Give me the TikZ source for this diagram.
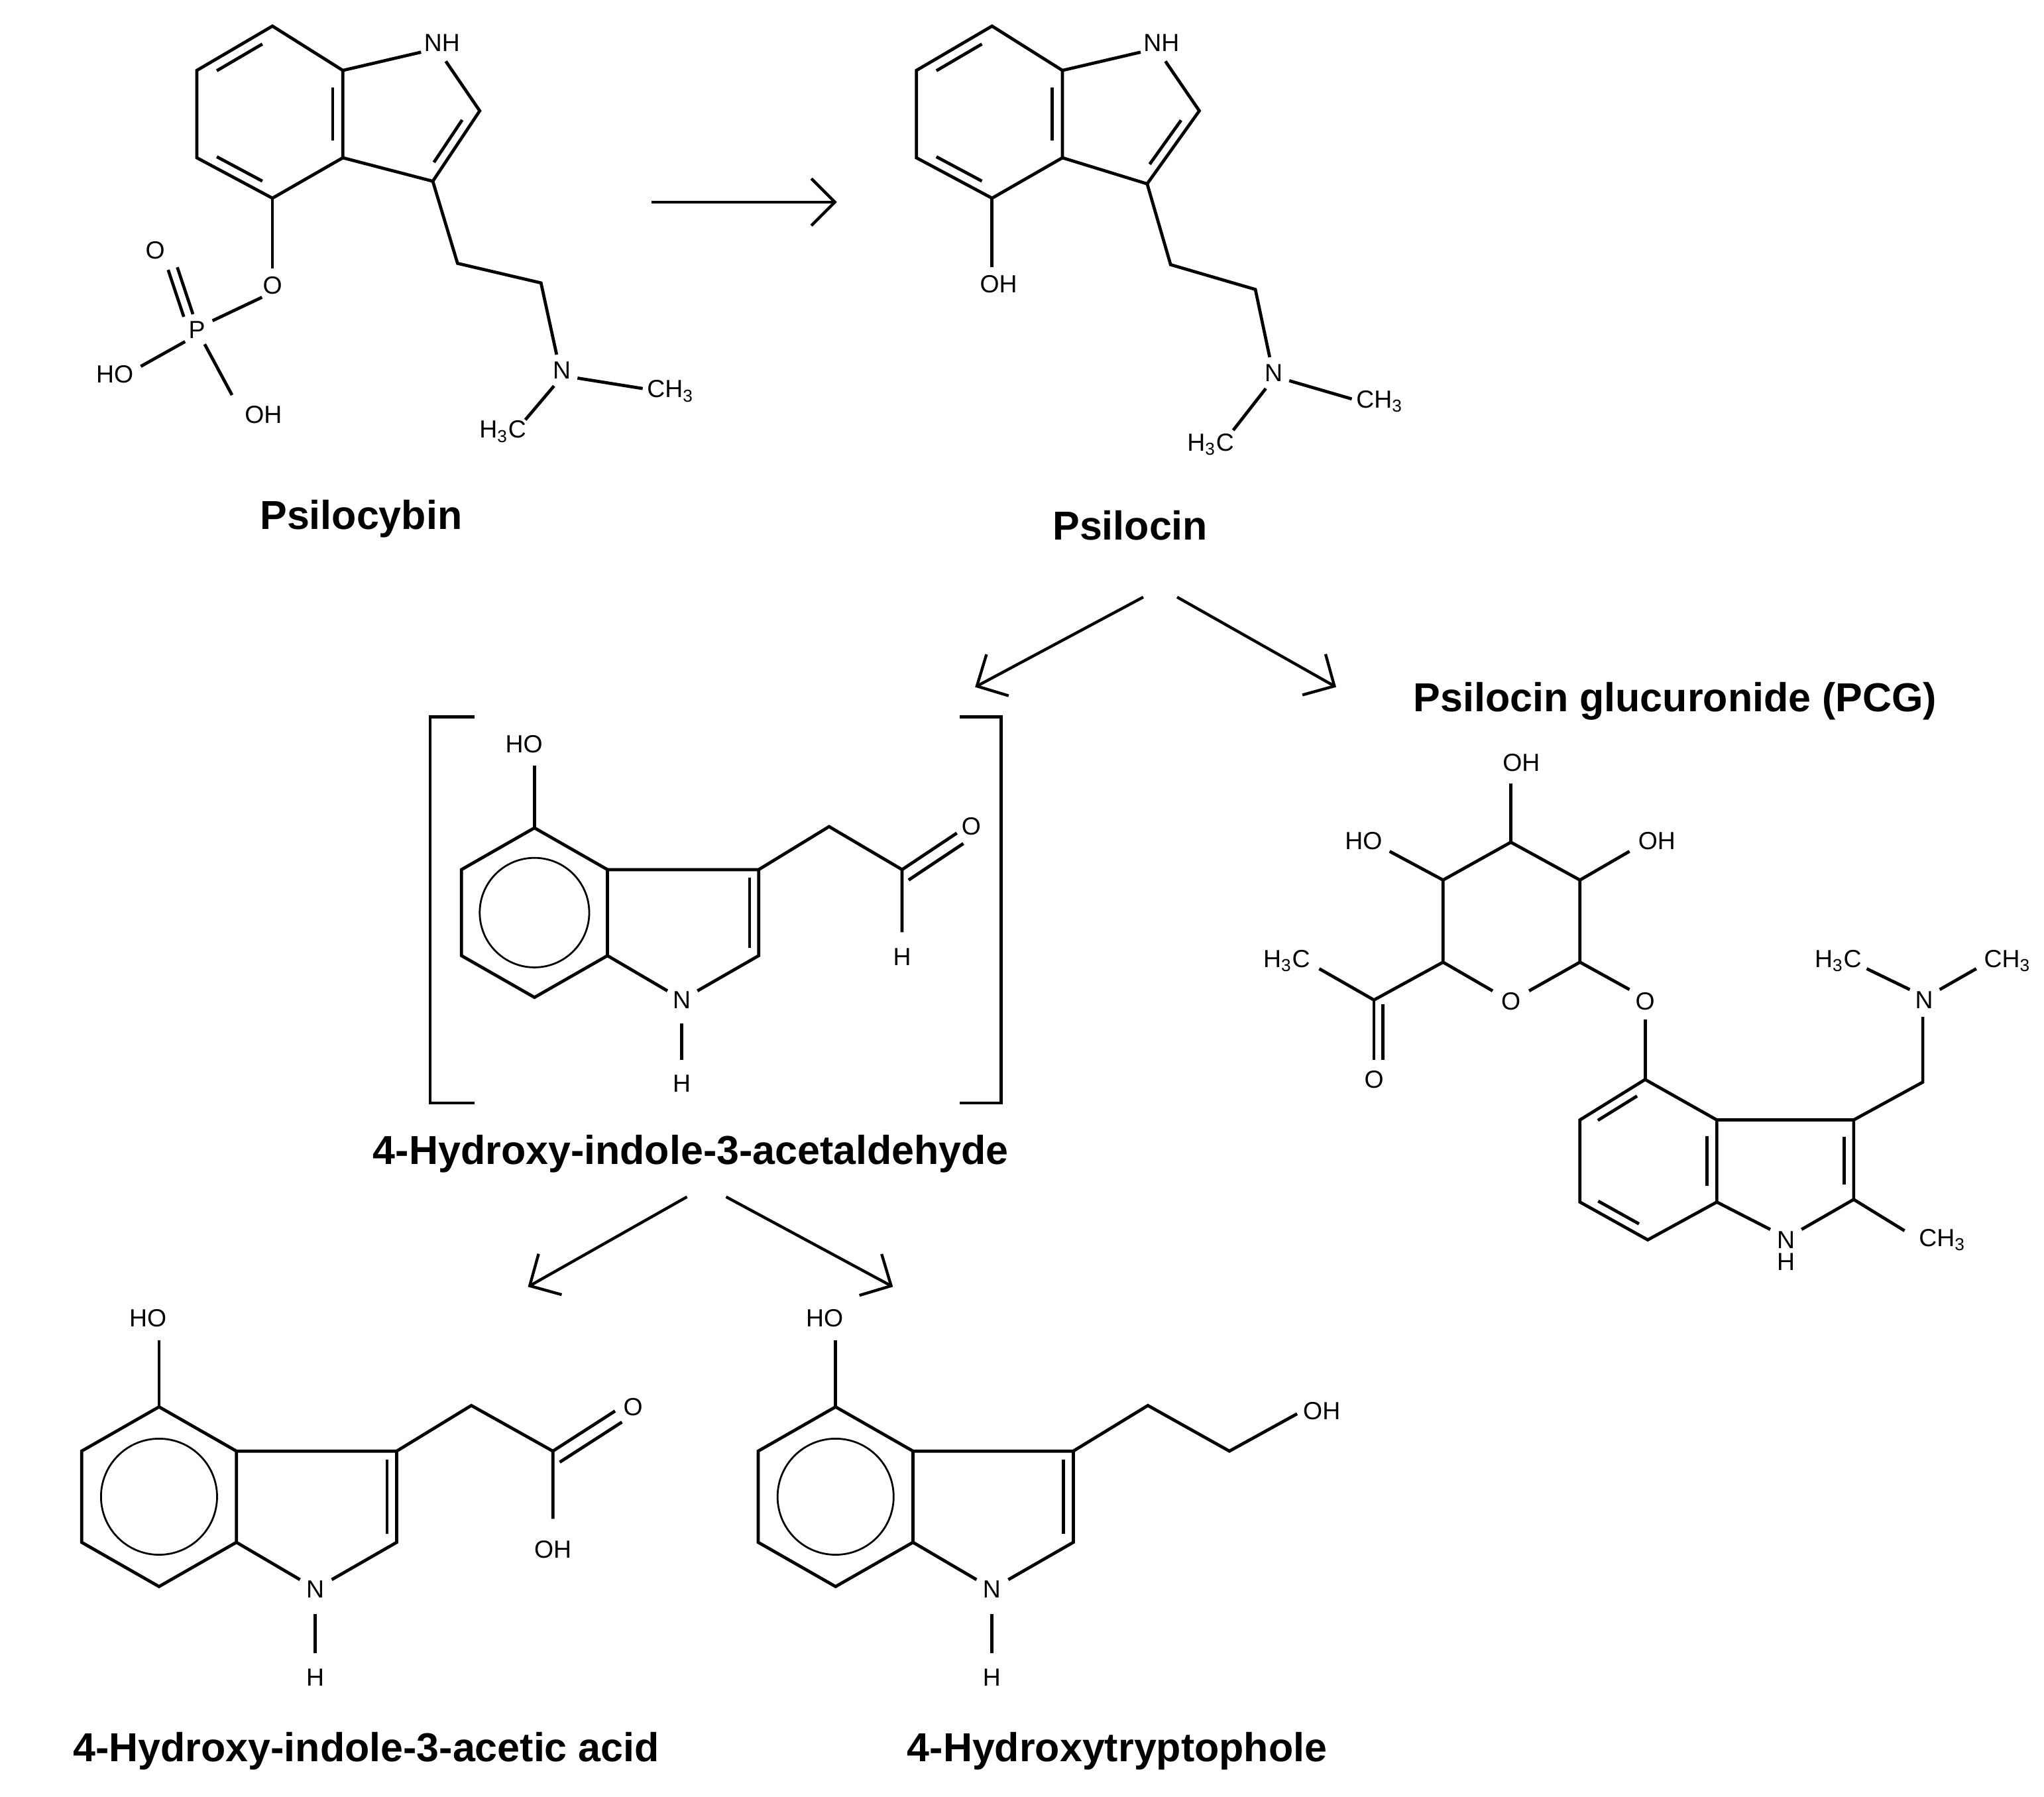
\documentclass[tikz,border=0pt]{standalone}
\usepackage{fontspec}
\setmainfont{Liberation Sans}
\usetikzlibrary{calc,arrows.meta}
\newcommand\innerbond[3]{\path ($(#1)!0.15!(#2)$) coordinate (tmpa) ($(#2)!0.15!(#1)$) coordinate (tmpb); \draw[bond] ($(tmpa)!0.14!(#3)$) -- ($(tmpb)!0.14!(#3)$);}
\newcommand\hcore[4]{%
 \begin{scope}[shift={(#1,#2)},scale=#3]
 \coordinate (#4c) at (0,0);
 \coordinate (#4r1) at (0,-65); \coordinate (#4r2) at (-56,-33); \coordinate (#4r3) at (-56,33);
 \coordinate (#4r4) at (0,65); \coordinate (#4r5) at (56,33); \coordinate (#4r6) at (56,-33);
 \coordinate (#4c3) at (172,-33); \coordinate (#4c2) at (172,33);
 \draw[bond] (#4r1)--(#4r2)--(#4r3)--(#4r4)--(#4r5)--(#4r6)--cycle;
 \draw[thin bond] (#4c) circle[radius=42];
 \draw[bond] (#4r6)--(#4c3)--(#4c2)--(125,60);
 \draw[bond] (165,-27)--(165,27);
 \draw[bond] (#4r5)--(102,60);
 \node[atom] (#4N) at (113,67) {N};
 \draw[bond] (113,85)--(113,113);
 \node[atom] (#4H) at (113,131) {H};
 \draw[bond] (#4r1)--(0,-113);
 \node[atom] (#4HO) at (-8,-129) {HO};
 \end{scope}}
\tikzset{bond/.style={line width=1.2pt},thin bond/.style={line width=0.7pt},
 atom/.style={inner sep=0pt,font=\fontsize{9.5}{10}\selectfont},
 title/.style={inner sep=0pt,font=\fontsize{15.5}{17}\selectfont\bfseries},
 rarrow/.style={line width=1.1pt,-{Straight Barb[length=9pt,width=18pt]}}}
\begin{document}
\begin{tikzpicture}[x=0.5pt,y=-0.5pt]
\useasboundingbox[fill=white] (0,0) rectangle (1568,1378);
% ---------- Psilocybin
\coordinate (a1) at (209,20); \coordinate (a2) at (151,54); \coordinate (a3) at (151,121);
\coordinate (a4) at (209,152); \coordinate (a5) at (263,121); \coordinate (a6) at (263,54);
\coordinate (ac) at (207,87);
\draw[bond] (a1)--(a2)--(a3)--(a4)--(a5)--(a6)--cycle;
\innerbond{a1}{a2}{ac}\innerbond{a3}{a4}{ac}\innerbond{a5}{a6}{ac}
\coordinate (ac2) at (368,85); \coordinate (ac3) at (332,139); \coordinate (apc) at (305,85);
\node[atom] (aNH) at (339,33) {NH};
\draw[bond] (a6)--(323,40); \draw[bond] (342,47)--(ac2)--(ac3)--(a5);
\innerbond{ac2}{ac3}{apc}
\draw[bond] (ac3)--(351,202)--(415,217)--(427,272);
\node[atom] (aN) at (431,284) {N};
\draw[bond] (443,290)--(493,298); \node[atom,anchor=west] (aCH3) at (496,300) {CH\textsubscript{3}};
\draw[bond] (425,296)--(403,322); \node[atom,anchor=east] (aH3C) at (404,331) {H\textsubscript{3}C};
\draw[bond] (a4)--(209,206); \node[atom] (aO) at (209,219) {O};
\draw[bond] (201,228)--(163,246); \node[atom] (aP) at (151,253) {P};
\draw[bond] (148,241)--(136,205); \draw[bond] (141,243)--(129,207);
\node[atom] (aO2) at (119,192) {O};
\draw[bond] (142,262)--(108,281); \node[atom] (aHO) at (88,287) {HO};
\draw[bond] (157,264)--(178,303); \node[atom] (aOH) at (202,318) {OH};
\node[title] (lPsb) at (277,398) {Psilocybin};
% ---------- arrow
\coordinate (arr1) at (500,155); \coordinate (arr2) at (642,155);
\draw[rarrow] (arr1)--(arr2);
% ---------- Psilocin
\begin{scope}[shift={(552,0)}]
\coordinate (b1) at (209,20); \coordinate (b2) at (151,54); \coordinate (b3) at (151,121);
\coordinate (b4) at (209,152); \coordinate (b5) at (263,121); \coordinate (b6) at (263,54);
\coordinate (bc) at (207,87);
\draw[bond] (b1)--(b2)--(b3)--(b4)--(b5)--(b6)--cycle;
\innerbond{b1}{b2}{bc}\innerbond{b3}{b4}{bc}\innerbond{b5}{b6}{bc}
\coordinate (bc2) at (368,85); \coordinate (bc3) at (328,141); \coordinate (bpc) at (305,85);
\node[atom] (bNH) at (339,33) {NH};
\draw[bond] (b6)--(323,40); \draw[bond] (342,47)--(bc2)--(bc3)--(b5);
\innerbond{bc2}{bc3}{bpc}
\draw[bond] (bc3)--(346,203)--(411,222)--(422,274);
\node[atom] (bN) at (425,286) {N};
\draw[bond] (437,292)--(485,306); \node[atom,anchor=west] (bCH3) at (488,308) {CH\textsubscript{3}};
\draw[bond] (419,298)--(394,330); \node[atom,anchor=east] (bH3C) at (395,341) {H\textsubscript{3}C};
\draw[bond] (b4)--(209,205); \node[atom] (bOH) at (214,218) {OH};
\end{scope}
\node[title] (lPsn) at (867,403) {Psilocin};
% ---------- arrows from psilocin
\coordinate (p1) at (877,458); \coordinate (p2) at (748,527);
\coordinate (p3) at (903,458); \coordinate (p4) at (1025,527);
\draw[rarrow] (p1)--(p2); \draw[rarrow] (p3)--(p4);
% ---------- 4-hydroxy-indole-3-acetaldehyde
\draw[bond] (364,550)--(330,550)--(330,846)--(364,846);
\draw[bond] (736,550)--(768,550)--(768,846)--(736,846);
\hcore{410}{700}{1}{k}
\begin{scope}[shift={(410,700)}]
\draw[bond] (172,-33)--(226,-66)--(282,-33)--(282,15);
\draw[bond] (282,-33)--(324,-61); \draw[bond] (287,-25)--(329,-53);
\node[atom] (kO) at (335,-66) {O};
\node[atom] (kH2) at (282,34) {H};
\end{scope}
\node[title] (lAld) at (530,885) {4-Hydroxy-indole-3-acetaldehyde};
\coordinate (q1) at (527,918); \coordinate (q2) at (405,987);
\coordinate (q3) at (557,918); \coordinate (q4) at (685,987);
\draw[rarrow] (q1)--(q2); \draw[rarrow] (q3)--(q4);
% ---------- acid
\hcore{122}{1148}{1.06}{m}
\begin{scope}[shift={(122,1148)},scale=1.06]
\draw[bond] (172,-33)--(226,-66)--(285,-33)--(285,16);
\draw[bond] (285,-33)--(330,-62); \draw[bond] (290,-25)--(335,-54);
\node[atom] (mO) at (343,-65) {O};
\node[atom] (mOH) at (285,38) {OH};
\end{scope}
\node[title] (lAcid) at (281,1343) {4-Hydroxy-indole-3-acetic acid};
% ---------- tryptophol
\hcore{641}{1148}{1.06}{t}
\begin{scope}[shift={(641,1148)},scale=1.06]
\draw[bond] (172,-33)--(226,-66)--(285,-33)--(334,-60);
\node[atom,anchor=west] (tOH) at (338,-62) {OH};
\end{scope}
\node[title] (lTry) at (857,1343) {4-Hydroxytryptophole};
% ---------- PCG
\node[title] (lPCG) at (1285,538) {Psilocin glucuronide (PCG)};
\coordinate (s1) at (1159,646); \coordinate (s2) at (1107,675); \coordinate (s3) at (1107,738);
\coordinate (s5) at (1212,738); \coordinate (s6) at (1212,675);
\draw[bond] (1145,760)--(s3)--(s2)--(s1)--(s6)--(s5)--(1173,760);
\node[atom] (sO) at (1159,768) {O};
\draw[bond] (s1)--(1159,601); \node[atom] (sOH1) at (1167,585) {OH};
\draw[bond] (s2)--(1066,653); \node[atom] (sHO) at (1046,645) {HO};
\draw[bond] (s6)--(1250,653); \node[atom] (sOH2) at (1271,645) {OH};
\coordinate (sc) at (1054,767);
\draw[bond] (s3)--(sc)--(1012,743); \node[atom] (sH3C) at (987,737) {H\textsubscript{3}C};
\draw[bond] (sc)--(1054,813); \draw[bond] (1061,770)--(1061,813);
\node[atom] (sO2) at (1054,828) {O};
\draw[bond] (s5)--(1250,759); \node[atom] (sO3) at (1262,768) {O};
\coordinate (g1) at (1262,828); \coordinate (g2) at (1212,859); \coordinate (g3) at (1212,922);
\coordinate (g4) at (1264,951); \coordinate (g5) at (1317,922); \coordinate (g6) at (1317,859);
\coordinate (gc) at (1264,890);
\draw[bond] (1262,782)--(g1);
\draw[bond] (g1)--(g2)--(g3)--(g4)--(g5)--(g6)--cycle;
\innerbond{g1}{g2}{gc}\innerbond{g3}{g4}{gc}\innerbond{g5}{g6}{gc}
\coordinate (gc3) at (1422,859); \coordinate (gc2) at (1422,920); \coordinate (gpc) at (1370,895);
\draw[bond] (g6)--(gc3)--(gc2)--(1382,943); \draw[bond] (g5)--(1358,943);
\innerbond{gc3}{gc2}{gpc}
\node[atom] (gN) at (1370,951) {N}; \node[atom] (gH) at (1370,968) {H};
\draw[bond] (gc2)--(1461,944); \node[atom] (gCH3) at (1490,951) {CH\textsubscript{3}};
\draw[bond] (gc3)--(1475,830)--(1475,780); \node[atom] (gN2) at (1476,767) {N};
\draw[bond] (1465,759)--(1432,743); \node[atom] (gH3C) at (1410,737) {H\textsubscript{3}C};
\draw[bond] (1488,759)--(1516,743); \node[atom] (gCH3b) at (1540,737) {CH\textsubscript{3}};
\end{tikzpicture}
\end{document}
